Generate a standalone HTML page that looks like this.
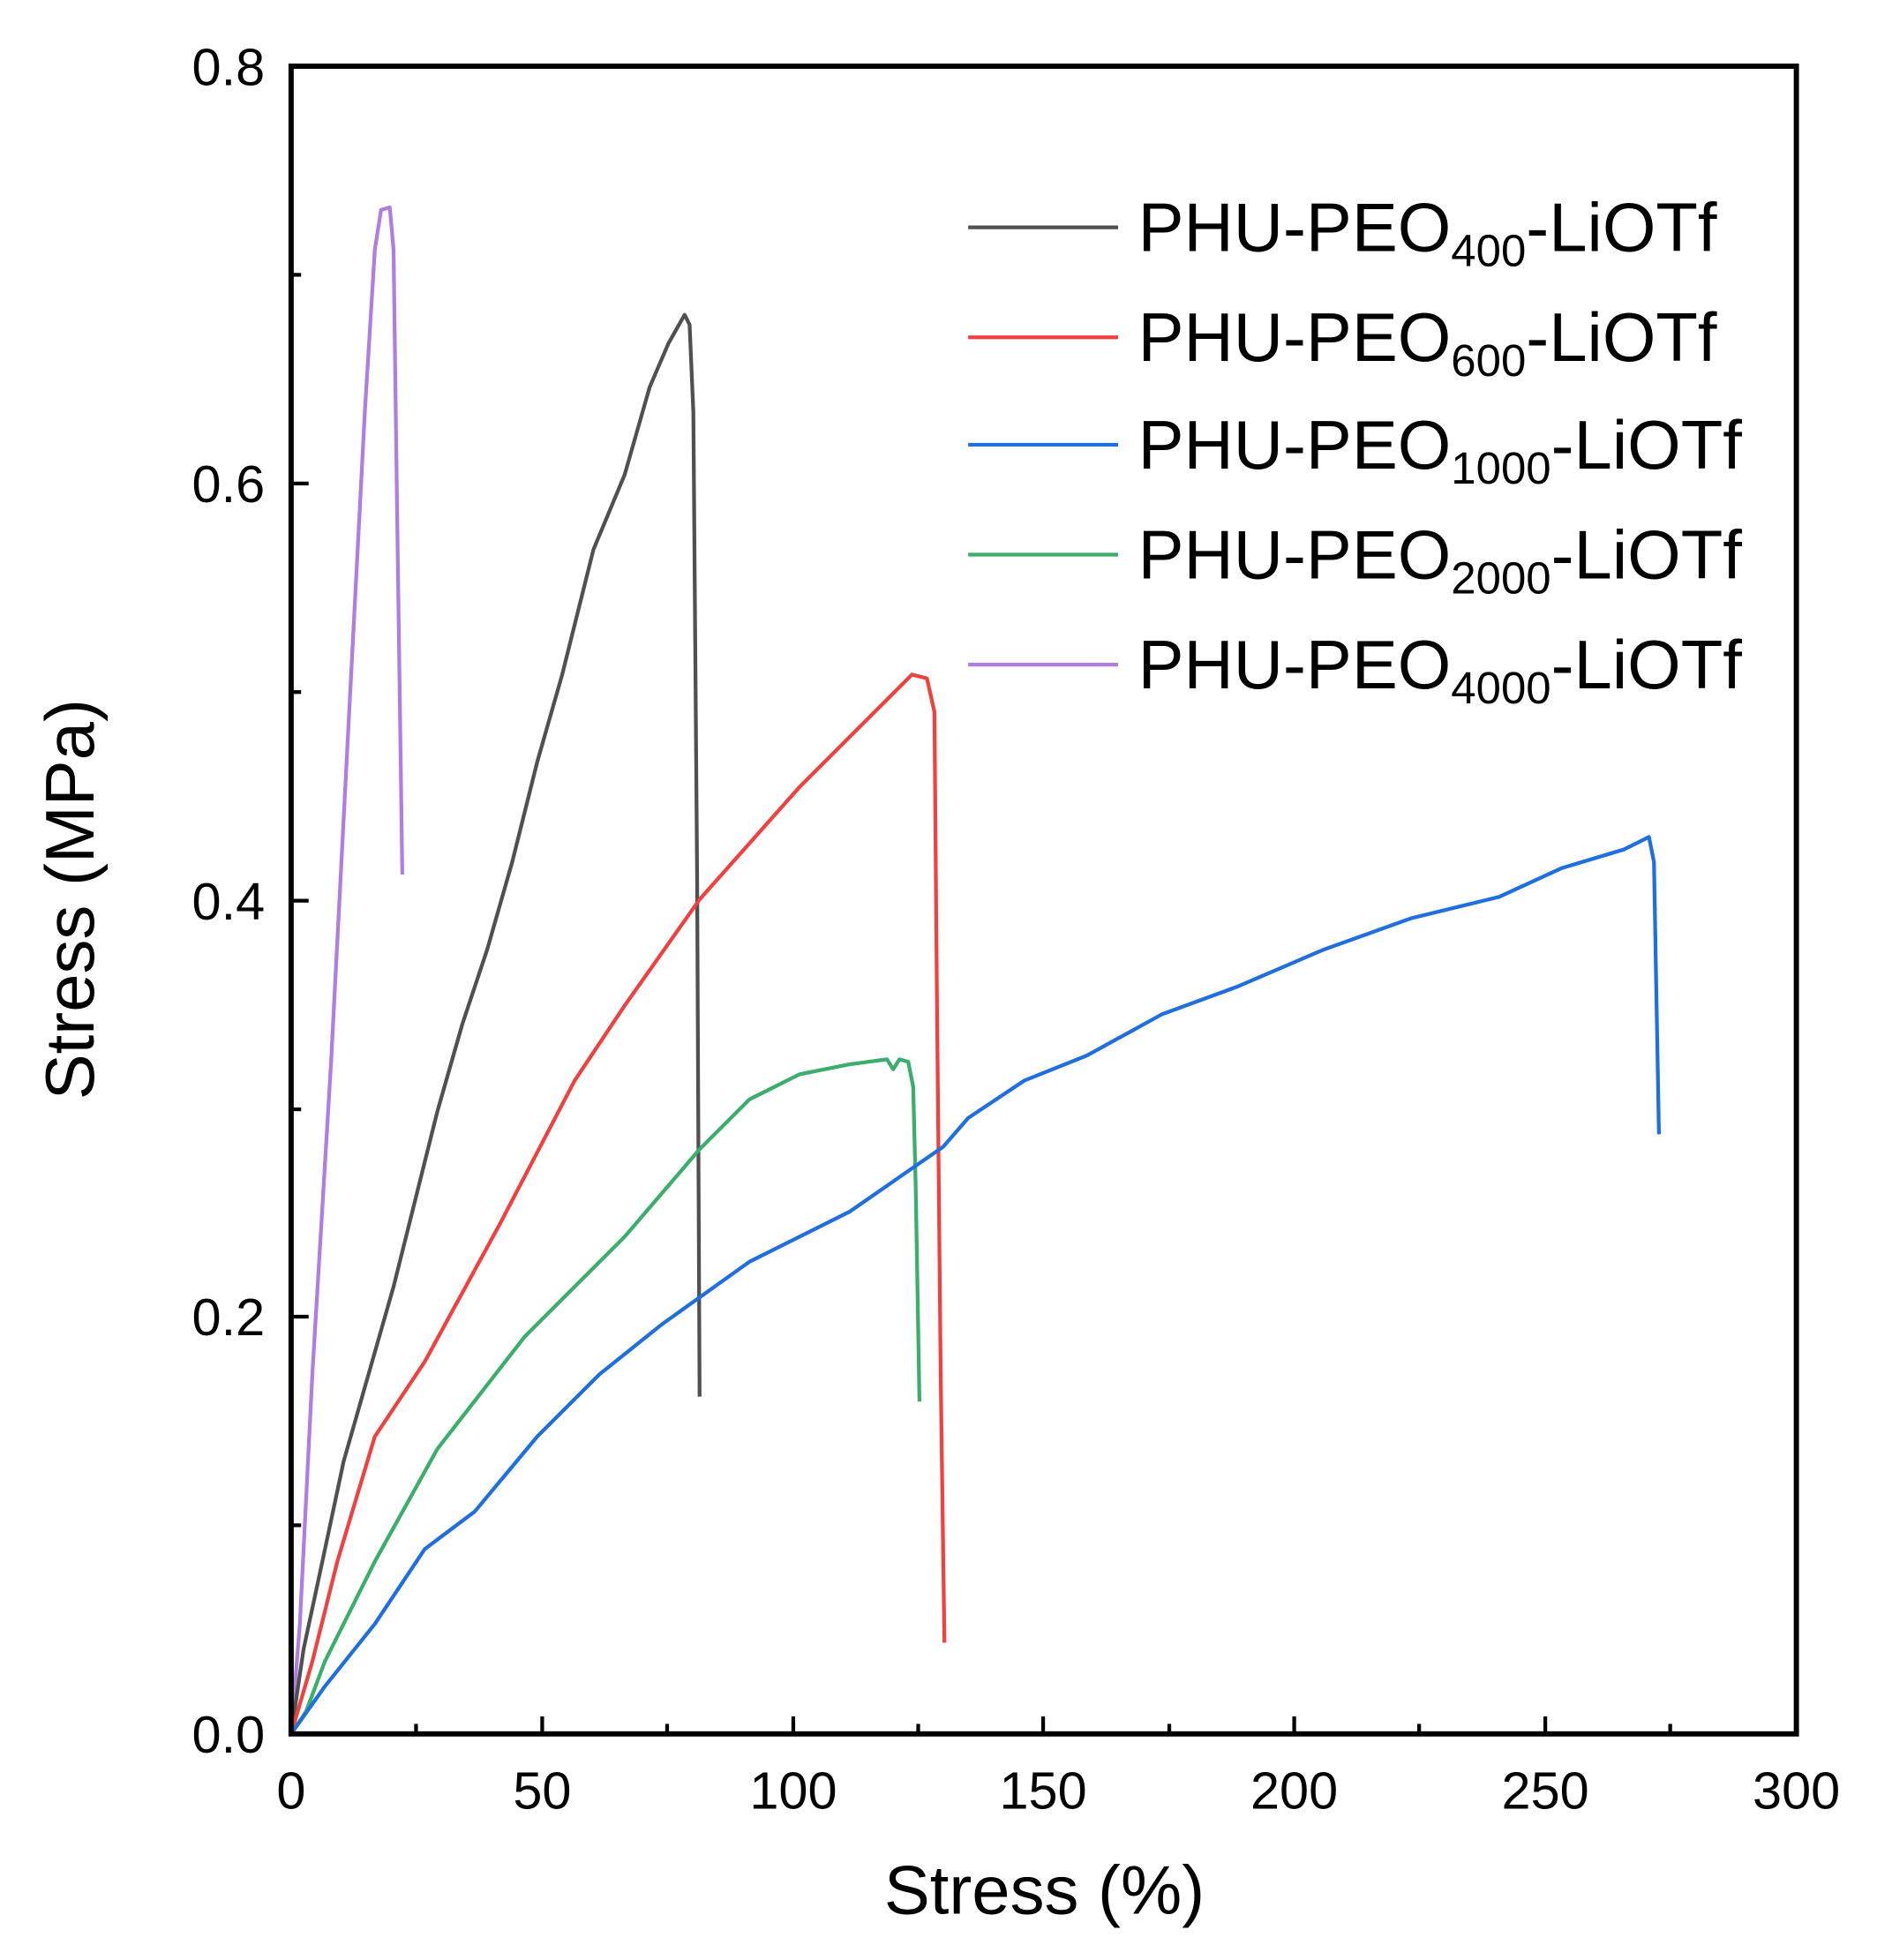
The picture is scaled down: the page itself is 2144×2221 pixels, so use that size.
<!DOCTYPE html>
<html><head><meta charset="utf-8"><style>body{margin:0;background:#fff}svg{display:block}</style></head><body>
<svg width="2144" height="2221" viewBox="0 0 1514.5 1569" xmlns="http://www.w3.org/2000/svg" font-family="Liberation Sans, Arial, sans-serif">
<rect width="1514.5" height="1569" fill="#fff"/>
<g fill="none" stroke-width="3" stroke-linejoin="round">
<polyline stroke="#b07ee0" points="233,1388 240,1300 250,1100 265,850 280,560 292,330 300,200 305,168 312,166 315,200 318,420 322,700"/>
<polyline stroke="#505050" points="233,1388 243,1320 258,1250 275,1170 295,1100 315,1030 335,950 350,890 370,820 390,760 410,690 430,610 450,540 475,440 500,380 520,310 535,275 548,252 552,260 555,330 558,700 560,1118"/>
<polyline stroke="#f04040" points="233,1388 250,1330 270,1250 300,1150 340,1090 400,980 460,865 500,805 560,720 640,630 700,570 730,540 742,543 748,570 750,800 753,1100 756,1315"/>
<polyline stroke="#3aae6a" points="233,1388 245,1370 260,1330 300,1250 350,1160 420,1070 500,990 560,920 600,880 640,860 680,852 710,848 715,856 720,848 727,850 731,870 733,950 736,1122"/>
<polyline stroke="#1f6fe0" points="233,1388 260,1350 300,1300 340,1240 380,1210 430,1150 480,1100 530,1060 600,1010 680,970 755,918 775,895 820,865 870,845 930,812 990,790 1060,760 1130,735 1200,718 1250,695 1300,680 1320,670 1324,690 1326,800 1328,908"/>
</g>
<rect x="233" y="53" width="1205" height="1335" fill="none" stroke="#000" stroke-width="4.2"/>
<g stroke="#000" stroke-width="3">
<line x1="233" y1="1054" x2="247" y2="1054"/><line x1="233" y1="721" x2="247" y2="721"/><line x1="233" y1="387" x2="247" y2="387"/>
<line x1="233" y1="1221" x2="241" y2="1221"/><line x1="233" y1="888" x2="241" y2="888"/><line x1="233" y1="554" x2="241" y2="554"/><line x1="233" y1="220" x2="241" y2="220"/>
<line x1="434" y1="1388" x2="434" y2="1374"/><line x1="635" y1="1388" x2="635" y2="1374"/><line x1="835" y1="1388" x2="835" y2="1374"/><line x1="1036" y1="1388" x2="1036" y2="1374"/><line x1="1237" y1="1388" x2="1237" y2="1374"/>
<line x1="333" y1="1388" x2="333" y2="1380"/><line x1="534" y1="1388" x2="534" y2="1380"/><line x1="735" y1="1388" x2="735" y2="1380"/><line x1="936" y1="1388" x2="936" y2="1380"/><line x1="1136" y1="1388" x2="1136" y2="1380"/><line x1="1337" y1="1388" x2="1337" y2="1380"/>
</g>
<g font-size="42" text-anchor="end" fill="#000">
<text x="212" y="1403">0.0</text><text x="212" y="1069">0.2</text><text x="212" y="736">0.4</text><text x="212" y="402">0.6</text><text x="212" y="68">0.8</text>
</g>
<g font-size="42" text-anchor="middle" fill="#000">
<text x="233" y="1448">0</text><text x="434" y="1448">50</text><text x="635" y="1448">100</text><text x="835" y="1448">150</text><text x="1036" y="1448">200</text><text x="1237" y="1448">250</text><text x="1438" y="1448">300</text>
</g>
<text x="836" y="1532" font-size="55" text-anchor="middle">Stress (%)</text>
<text transform="translate(75,720) rotate(-90)" font-size="55" text-anchor="middle">Stress (MPa)</text>
<g stroke-width="3">
<line x1="775" y1="182" x2="895" y2="182" stroke="#505050"/>
<line x1="775" y1="270" x2="895" y2="270" stroke="#f04040"/>
<line x1="775" y1="356" x2="895" y2="356" stroke="#1f6fe0"/>
<line x1="775" y1="444" x2="895" y2="444" stroke="#3aae6a"/>
<line x1="775" y1="532" x2="895" y2="532" stroke="#b07ee0"/>
</g>
<g font-size="55" fill="#000">
<text x="911" y="201">PHU-PEO<tspan font-size="36" dy="12">400</tspan><tspan dy="-12">-LiOTf</tspan></text>
<text x="911" y="289">PHU-PEO<tspan font-size="36" dy="12">600</tspan><tspan dy="-12">-LiOTf</tspan></text>
<text x="911" y="375">PHU-PEO<tspan font-size="36" dy="12">1000</tspan><tspan dy="-12">-LiOTf</tspan></text>
<text x="911" y="463">PHU-PEO<tspan font-size="36" dy="12">2000</tspan><tspan dy="-12">-LiOTf</tspan></text>
<text x="911" y="551">PHU-PEO<tspan font-size="36" dy="12">4000</tspan><tspan dy="-12">-LiOTf</tspan></text>
</g>
</svg>
</body></html>
